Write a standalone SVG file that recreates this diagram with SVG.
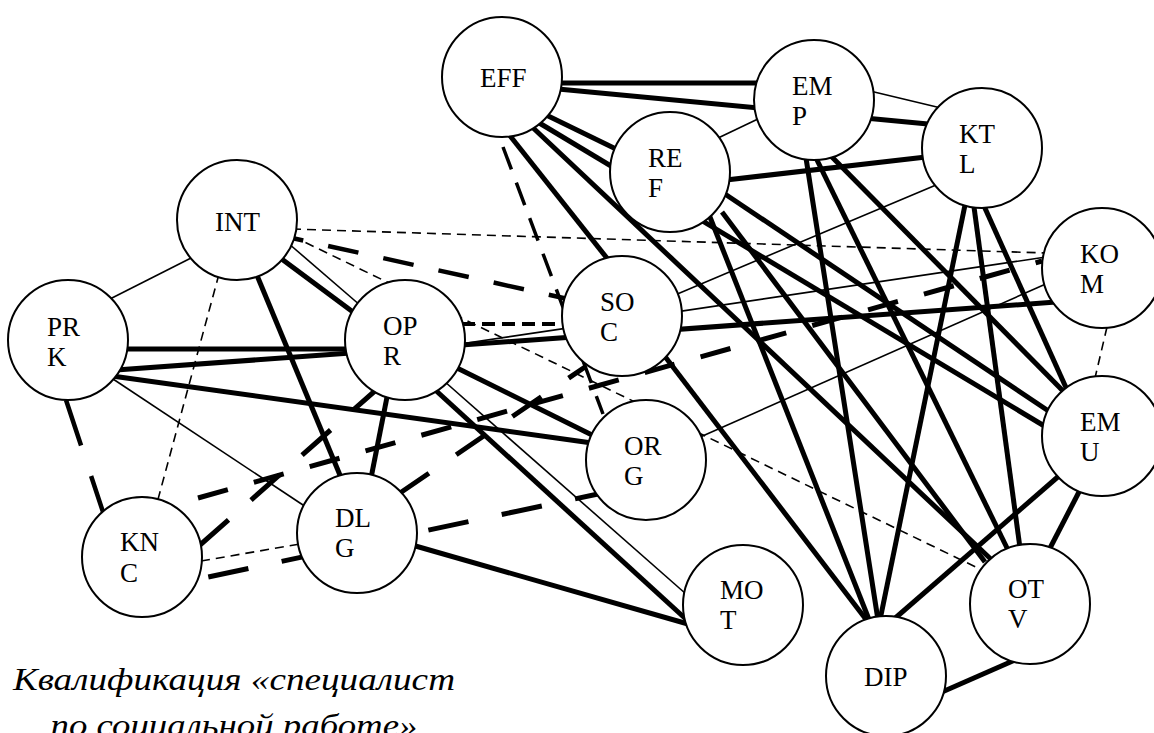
<svg xmlns="http://www.w3.org/2000/svg" width="1154" height="733" viewBox="0 0 1154 733">
<style>
.e{fill:none;stroke:#000;stroke-linecap:butt}
.k{stroke-width:5}
.t{stroke-width:1.6}
.td{stroke-width:1.6;stroke-dasharray:9 6}
.n circle{fill:#fff;stroke:#000;stroke-width:2}
.n text{font-size:27px;fill:#000}
.title{font-size:31px;font-style:italic;fill:#000;text-anchor:middle}
</style>
<rect width="1154" height="733" fill="#fff"/>
<g id="connectors" class="e">
<line class="t" x1="195" y1="256" x2="108" y2="300"/>
<line class="td" x1="219" y1="274" x2="157" y2="503"/>
<line class="k" x1="256" y1="273" x2="342" y2="480"/>
<line class="k" x1="279" y1="257" x2="357" y2="315"/>
<line class="t" x1="288" y1="243" x2="361" y2="306"/>
<line stroke-width="4.5" stroke-dasharray="31 25.5" stroke-dashoffset="19.5" x1="292" y1="238" x2="568" y2="299"/>
<line class="td" x1="292" y1="236" x2="982" y2="570"/>
<line class="td" x1="292" y1="229" x2="1046" y2="253"/>
<line class="k" x1="124" y1="349" x2="350" y2="349"/>
<line class="k" x1="116" y1="370" x2="1056" y2="302"/>
<line class="k" x1="112" y1="376" x2="592" y2="443"/>
<line class="t" x1="110" y1="377" x2="306" y2="507"/>
<line stroke-width="4.5" stroke-dasharray="48 32" x1="66" y1="400" x2="104" y2="515"/>
<line class="k" x1="388" y1="392" x2="371" y2="478"/>
<line class="k" x1="455" y1="367" x2="594" y2="436"/>
<line class="k" x1="432" y1="387" x2="688" y2="621"/>
<line class="t" x1="444" y1="381" x2="686" y2="594"/>
<line stroke-width="4" stroke-dasharray="13 7" x1="462" y1="324" x2="566" y2="324"/>
<line class="t" x1="460" y1="344" x2="1046" y2="257"/>
<line stroke-width="5" stroke-dasharray="38 30" x1="200" y1="545" x2="376" y2="390"/>
<line stroke-width="5" stroke-dasharray="31 27" x1="198" y1="498" x2="1042" y2="261"/>
<line stroke-width="5" stroke-dasharray="41 34" stroke-dashoffset="65.5" x1="199" y1="579" x2="598" y2="494"/>
<line class="td" x1="201" y1="561" x2="300" y2="544"/>
<line stroke-width="5" stroke-dasharray="35 33" x1="400" y1="493" x2="585" y2="367"/>
<line class="k" x1="412" y1="545" x2="688" y2="624"/>
<line class="k" x1="558" y1="83" x2="760" y2="83"/>
<line class="k" x1="558" y1="89" x2="928" y2="124"/>
<line class="t" x1="870" y1="91" x2="941" y2="108"/>
<line class="t" x1="716" y1="139" x2="760" y2="118"/>
<line class="k" x1="540" y1="112" x2="618" y2="150"/>
<line class="k" x1="536" y1="121" x2="1046" y2="427"/>
<line class="k" x1="722" y1="192" x2="1050" y2="412"/>
<line class="k" x1="530" y1="125" x2="995" y2="563"/>
<line class="k" x1="507" y1="132" x2="610" y2="262"/>
<line stroke-width="3.5" stroke-dasharray="24 14" x1="503" y1="147" x2="603" y2="414"/>
<line class="k" x1="726" y1="180" x2="926" y2="157"/>
<line class="k" x1="708" y1="212" x2="870" y2="622"/>
<line class="k" x1="722" y1="212" x2="985" y2="562"/>
<line class="k" x1="806" y1="158" x2="878" y2="620"/>
<line class="k" x1="816" y1="158" x2="1008" y2="550"/>
<line class="k" x1="830" y1="155" x2="1066" y2="394"/>
<line class="k" x1="965" y1="205" x2="880" y2="620"/>
<line class="k" x1="974" y1="207" x2="1020" y2="548"/>
<line class="k" x1="984" y1="206" x2="1068" y2="392"/>
<line class="t" x1="675" y1="295" x2="936" y2="185"/>
<line class="k" x1="660" y1="350" x2="868" y2="622"/>
<line class="t" x1="698" y1="438" x2="1048" y2="283"/>
<line class="td" x1="1107" y1="327" x2="1095" y2="378"/>
<line class="k" x1="1060" y1="475" x2="893" y2="620"/>
<line class="k" x1="1080" y1="490" x2="1048" y2="552"/>
<line class="k" x1="1015" y1="660" x2="942" y2="692"/>
</g>
<g font-family="Liberation Serif, Times New Roman, serif">
<g id="INT" class="n"><circle cx="237" cy="220" r="60"/><text x="215" y="231">INT</text></g>
<g id="PRK" class="n"><circle cx="68" cy="340" r="60"/><text x="47" y="336">PR</text><text x="47" y="366">K</text></g>
<g id="OPR" class="n"><circle cx="405" cy="340" r="60"/><text x="383" y="335">OP</text><text x="383" y="365">R</text></g>
<g id="KNC" class="n"><circle cx="142" cy="557" r="60"/><text x="120" y="551">KN</text><text x="120" y="582">C</text></g>
<g id="DLG" class="n"><circle cx="357" cy="533" r="60"/><text x="335" y="527">DL</text><text x="335" y="557">G</text></g>
<g id="EFF" class="n"><circle cx="502" cy="77" r="60"/><text x="480" y="87">EFF</text></g>
<g id="REF" class="n"><circle cx="670" cy="172" r="60"/><text x="648" y="167">RE</text><text x="648" y="197">F</text></g>
<g id="SOC" class="n"><circle cx="622" cy="316" r="60"/><text x="600" y="311">SO</text><text x="600" y="341">C</text></g>
<g id="ORG" class="n"><circle cx="646" cy="460" r="60"/><text x="624" y="455">OR</text><text x="624" y="485">G</text></g>
<g id="MOT" class="n"><circle cx="743" cy="605" r="60"/><text x="720" y="599">MO</text><text x="720" y="629">T</text></g>
<g id="EMP" class="n"><circle cx="814" cy="100" r="60"/><text x="792" y="95">EM</text><text x="792" y="125">P</text></g>
<g id="KTL" class="n"><circle cx="982" cy="148" r="60"/><text x="959" y="143">KT</text><text x="959" y="173">L</text></g>
<g id="KOM" class="n"><circle cx="1102" cy="268" r="60"/><text x="1080" y="263">KO</text><text x="1080" y="293">M</text></g>
<g id="EMU" class="n"><circle cx="1102" cy="436" r="60"/><text x="1080" y="431">EM</text><text x="1080" y="461">U</text></g>
<g id="OTV" class="n"><circle cx="1030" cy="604" r="60"/><text x="1008" y="598">OT</text><text x="1008" y="628">V</text></g>
<g id="DIP" class="n"><circle cx="886" cy="676" r="60"/><text x="864" y="686">DIP</text></g>
<g id="caption">
<text class="title" x="234" y="690" textLength="442" lengthAdjust="spacingAndGlyphs">Квалификация «специалист</text>
<text class="title" x="234" y="736" textLength="367" lengthAdjust="spacingAndGlyphs">по социальной работе»</text>
</g>
</g>
</svg>
